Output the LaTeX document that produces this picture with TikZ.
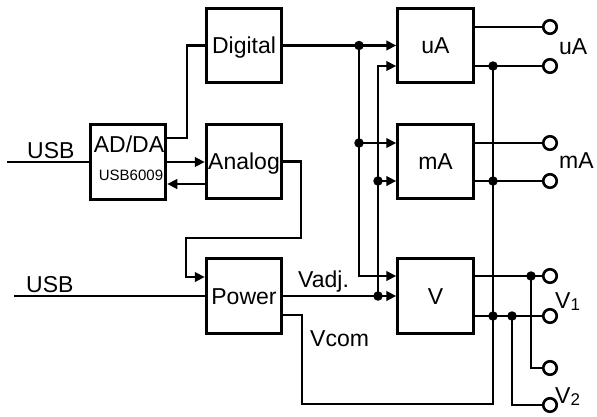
\documentclass[tikz,border=0pt]{standalone}
\usepackage{fontspec}
\setmainfont{Liberation Sans}
\usetikzlibrary{arrows.meta}
\begin{document}
\begin{tikzpicture}[x=1pt,y=-1pt,
  bigfont/.style={font=\fontsize{23}{26}\selectfont},
  blk/.style={draw,line width=3pt,minimum width=75.5pt,minimum height=74.5pt,inner sep=0pt,
    text height=16.5pt,text depth=0pt,bigfont},
  wire/.style={line width=2.6pt},
  arr/.style={wire,-{Triangle[length=10pt,width=9.5pt]}},
  jdot/.style={circle,fill,inner sep=0pt,minimum size=9.5pt},
  term/.style={circle,draw,line width=2.6pt,fill=white,inner sep=0pt,minimum size=13.5pt},
  lbl/.style={bigfont,inner sep=0pt}]
\useasboundingbox (0,0) rectangle (597,416);

% blocks
\node[blk] (adda) at (128,162) {};
\node[blk] (dig) at (244,45.5) {Digital};
\node[blk] (ana) at (244,161.5) {Analog};
\node[blk] (pow) at (244,296) {Power};
\node[blk] (ua) at (435.5,45.5) {uA};
\node[blk] (ma) at (435.5,161.5) {mA};
\node[blk] (vv) at (435.5,296) {V};

\node[lbl,anchor=base] (addat) at (129,152) {AD/DA};
\node[font=\fontsize{15}{17}\selectfont,inner sep=0pt,anchor=base] (addas) at (131,180) {USB6009};

% USB inputs
\coordinate (usb1) at (7,162);
\coordinate (usb2) at (14,296);
\draw[wire] (usb1) -- (adda.west);
\draw[wire] (usb2) -- (pow.west);
\node[lbl,anchor=base west] (usb1t) at (27,158) {USB};
\node[lbl,anchor=base west] (usb2t) at (26,292) {USB};

% AD/DA <-> Digital / Analog
\coordinate (a1) at ([yshift=24pt]adda.east);
\coordinate (a2) at (187,138);
\draw[wire] (a1) -- (a2) |- (dig.west);
\draw[arr] (adda.east) -- (adda.east -| ana.west);
\coordinate (r1) at ([yshift=-22.5pt]ana.west);
\draw[arr] (r1) -- (r1 -| adda.east);

% Analog -> Power loop
\coordinate (lp1) at (301,238);
\coordinate (lp2) at (186,238);
\draw[arr] (ana.east) -| (lp1) -- (lp2) |- ([yshift=19pt]pow.west);

% Digital bus
\coordinate (j1) at (359,45.5);
\coordinate (j2) at (359,143);
\draw[arr] (dig.east) -- (dig.east -| ua.west);
\draw[arr] (j1) |- ([yshift=20pt]vv.west);
\draw[arr] (j2) -- (j2 -| ma.west);

% Vadj bus
\coordinate (j3) at (378,296);
\coordinate (j4) at (378,181);
\draw[arr] (pow.east) -- (pow.east -| vv.west);
\draw[arr] (j3) |- ([yshift=-20.5pt]ua.west);
\draw[arr] (j4) -- (j4 -| ma.west);
\node[lbl,anchor=base west] (vadj) at (298,287) {Vadj.};

% terminals
\node[term] (t1) at (550,27) {};
\node[term] (t2) at (550,66) {};
\node[term] (t3) at (550,143) {};
\node[term] (t4) at (550,181) {};
\node[term] (t5) at (550,276) {};
\node[term] (t6) at (550,316) {};
\node[term] (t7) at (550,368) {};
\node[term] (t8) at (550,405) {};

\foreach \t in {t1,t2,t3,t4,t5,t6}{\draw[wire] (\t -| ua.east) -- (\t);}

% common return
\coordinate (k1) at (493,66);
\coordinate (k2) at (493,181);
\coordinate (k3) at (493,316);
\coordinate (b1) at (493,404);
\coordinate (b2) at (302,404);
\draw[wire] (k1) -- (b1) -- (b2) |- ([yshift=-19pt]pow.east);
\node[lbl,anchor=base west] (vcom) at (310,346) {Vcom};

% V outputs
\coordinate (k5) at (531,276);
\coordinate (k6) at (512,316);
\draw[wire] (k5) |- (t7);
\draw[wire] (k6) |- (t8);

% junction dots
\foreach \p in {j1,j2,j3,j4,k1,k2,k3,k5,k6}{\node[jdot] at (\p) {};}

% output labels
\node[lbl,anchor=base west] (lua) at (559,54) {uA};
\node[lbl,anchor=base west] (lma) at (559,168) {mA};
\node[lbl,anchor=base west] (lv1) at (555,308) {V\raisebox{-2pt}{\fontsize{17}{19}\selectfont 1}};
\node[lbl,anchor=base west] (lv2) at (555,403) {V\raisebox{-2pt}{\fontsize{17}{19}\selectfont 2}};
\end{tikzpicture}
\end{document}
